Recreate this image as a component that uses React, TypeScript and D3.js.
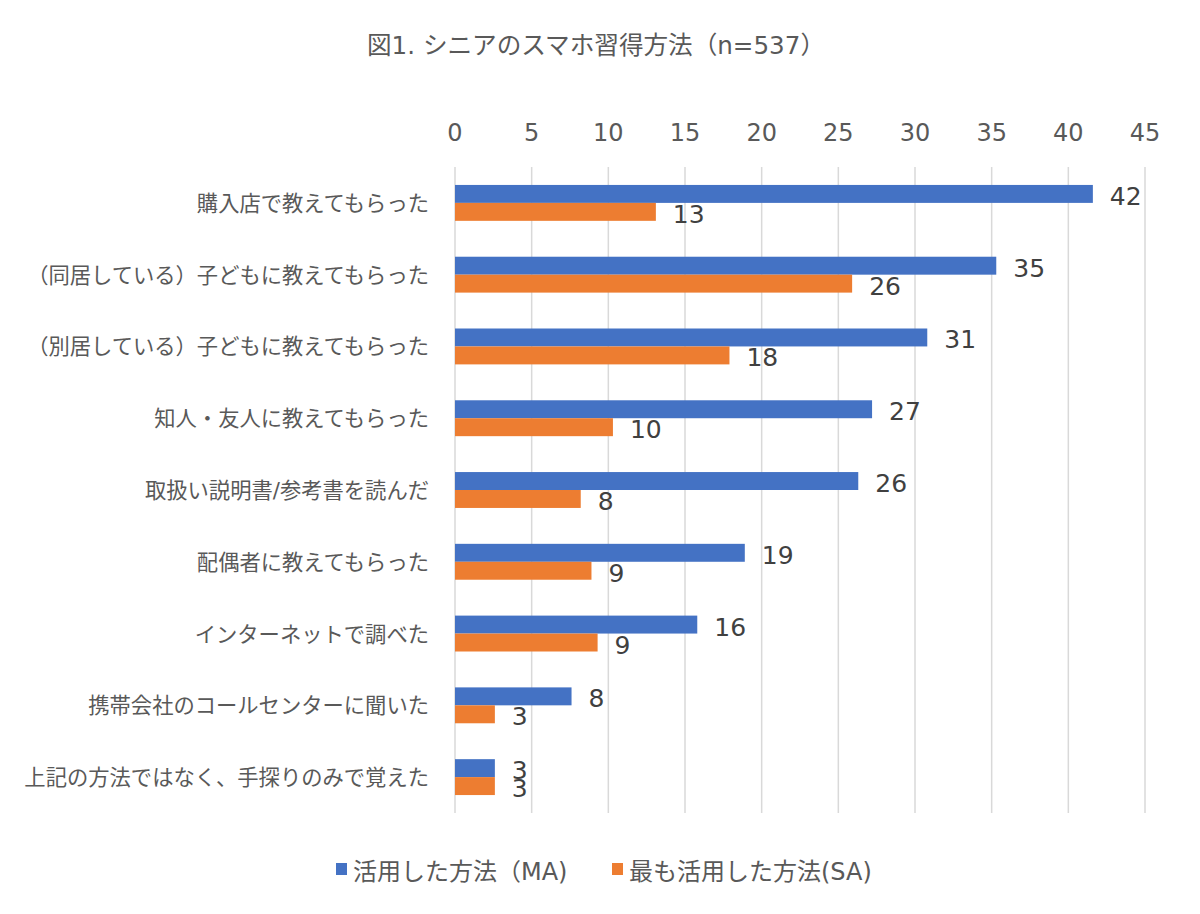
import React from "react";
import * as d3 from "d3";

const categories = [
  "購入店で教えてもらった",
  "（同居している）子どもに教えてもらった",
  "（別居している）子どもに教えてもらった",
  "知人・友人に教えてもらった",
  "取扱い説明書/参考書を読んだ",
  "配偶者に教えてもらった",
  "インターネットで調べた",
  "携帯会社のコールセンターに聞いた",
  "上記の方法ではなく、手探りのみで覚えた",
];
const seriesNames = ["活用した方法（MA)", "最も活用した方法(SA)"];
const maValues = [41.6, 35.3, 30.8, 27.2, 26.3, 18.9, 15.8, 7.6, 2.6];
const saValues = [13.1, 25.9, 17.9, 10.3, 8.2, 8.9, 9.3, 2.6, 2.6];
const xTicks = [0, 5, 10, 15, 20, 25, 30, 35, 40, 45];
const title = "図1. シニアのスマホ習得方法（n=537）";

const W = 1200;
const H = 914;
const FONT = "'DejaVu Sans', 'Noto Sans CJK JP', sans-serif";
const COLORS = ["#4472C4", "#ED7D31"];

export default function App() {
  const left = 455;
  const right = 1145;
  const top = 167;
  const bottom = 813;
  const x = d3.scaleLinear().domain([0, 45]).range([left, right]);
  const y = d3.scaleBand<string>().domain(categories).range([top, bottom]).paddingInner(0.5).paddingOuter(0.25);
  const sub = d3.scaleBand<number>().domain([0, 1]).range([0, y.bandwidth()]);
  const series = [maValues, saValues];

  return (
    <svg width={W} height={H} style={{ position: "absolute", left: 0, top: 0, background: "#fff" }} fontFamily={FONT}>
      <rect x={0} y={0} width={W} height={H} fill="#fff" />
      <text x={596} y={54} textAnchor="middle" fontSize={24.6} fill="#595959">{title}</text>
      {xTicks.map((t) => (
        <g key={t}>
          <line x1={x(t)} x2={x(t)} y1={top} y2={bottom} stroke="#D9D9D9" strokeWidth={1.5} />
          <text x={x(t)} y={141} textAnchor="middle" fontSize={24} fill="#595959">{t}</text>
        </g>
      ))}
      {categories.map((c, i) => (
        <g key={c}>
          <text x={429} y={(y(c) as number) + y.bandwidth() / 2 + 8} textAnchor="end" fontSize={21.3} fill="#595959">{c}</text>
          {series.map((vals, s) => {
            const by = (y(c) as number) + (sub(s) as number);
            return (
              <g key={s}>
                <rect x={x(0)} y={by} width={x(vals[i]) - x(0)} height={sub.bandwidth()} fill={COLORS[s]} />
                <text x={x(vals[i]) + 17} y={by + sub.bandwidth() / 2 + 11} fontSize={25} fill="#404040">{Math.round(vals[i])}</text>
              </g>
            );
          })}
        </g>
      ))}
      {seriesNames.map((n, s) => {
        const lx = s === 0 ? 336 : 612;
        return (
          <g key={n}>
            <rect x={lx} y={863} width={11} height={12} fill={COLORS[s]} />
            <text x={lx + 17} y={880} fontSize={24} fill="#595959">{n}</text>
          </g>
        );
      })}
    </svg>
  );
}
